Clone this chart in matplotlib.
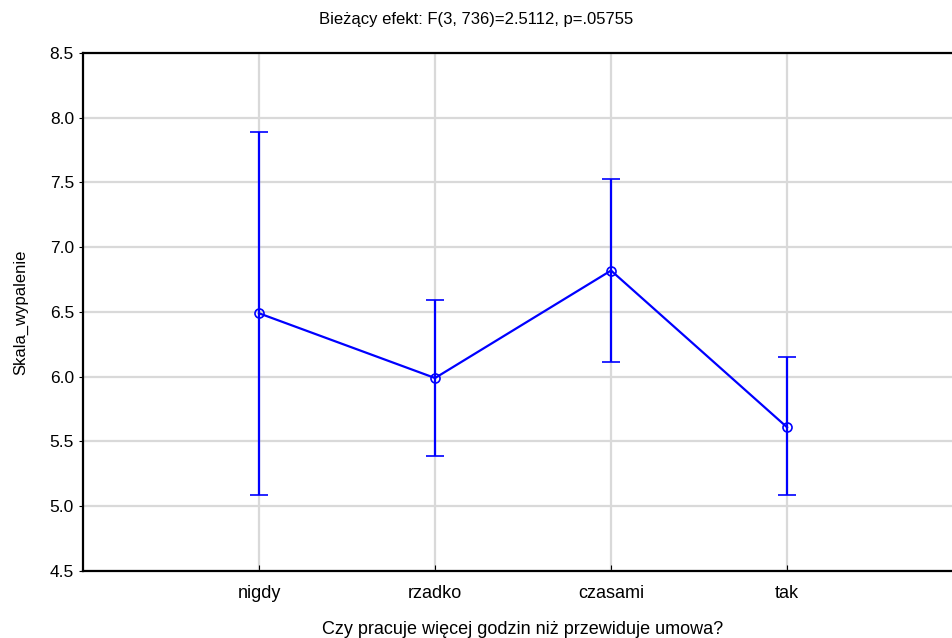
import matplotlib.pyplot as plt

categories = ['nigdy', 'rzadko', 'czasami', 'tak']
means = [6.49, 5.99, 6.82, 5.61]
upper = [7.89, 6.59, 7.53, 6.15]
lower = [5.09, 5.39, 6.11, 5.09]
yticks = [4.5, 5.0, 5.5, 6.0, 6.5, 7.0, 7.5, 8.0, 8.5]

plt.rcParams['font.family'] = ['Liberation Sans', 'DejaVu Sans']

x = list(range(1, len(categories) + 1))
err = [[m - lo for m, lo in zip(means, lower)], [u - m for m, u in zip(means, upper)]]

fig = plt.figure(figsize=(9.52, 6.38), dpi=100)
ax = fig.add_axes([0.0872, 0.105, 0.9244, 0.812])

ax.errorbar(x, means, yerr=err, color='#0000ff', lw=1.6, capsize=6.5, capthick=1.6,
            marker='o', markersize=6.5, markerfacecolor='none', markeredgewidth=1.2, zorder=3)

ax.set_xlim(0, 5)
ax.set_ylim(4.5, 8.5)
ax.set_xticks(x)
ax.set_xticklabels(categories)
ax.set_yticks(yticks)
ax.set_yticklabels([f'{v:.1f}' for v in yticks])
ax.grid(True, color='#d9d9d9', lw=1.6)
ax.set_axisbelow(True)
for s in ax.spines.values():
    s.set_linewidth(1.6)
ax.tick_params(axis='x', direction='in', length=4, labelsize=13, pad=10)
ax.tick_params(axis='y', direction='out', length=3, labelsize=12.5)

ax.set_xlabel('Czy pracuje więcej godzin niż przewiduje umowa?', fontsize=13, labelpad=14)
ax.set_ylabel('Skala_wypalenie', fontsize=12, labelpad=15)
fig.suptitle('Bieżący efekt: F(3, 736)=2.5112, p=.05755', fontsize=12, x=0.5, y=0.981)

fig.savefig('out.png', dpi=100)
